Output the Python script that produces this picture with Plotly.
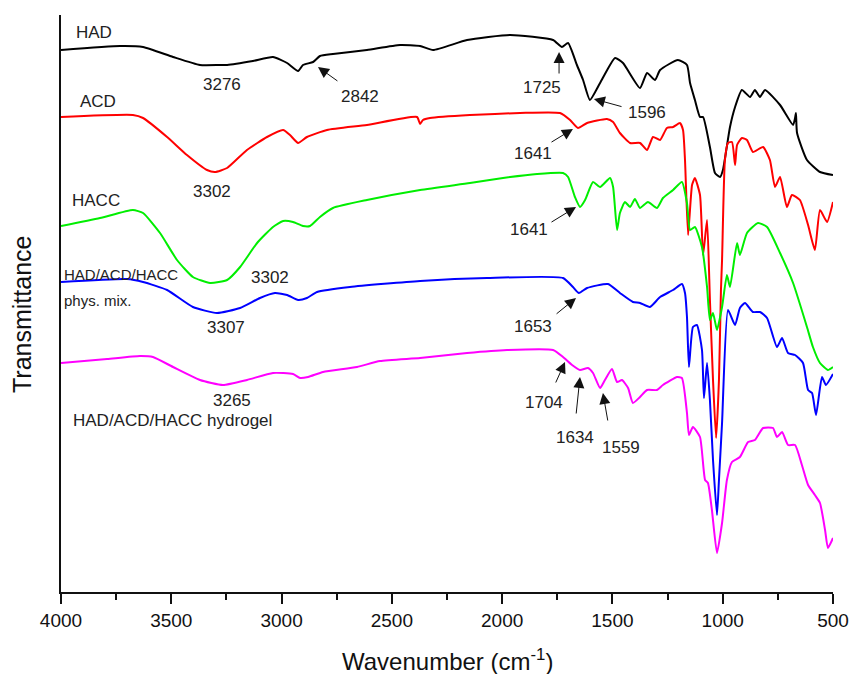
import plotly.graph_objects as go

# ---------------- data ----------------
had_wn = [4000, 3732, 3628, 3492, 3370, 3279, 3247, 3130, 3039, 2975, 2925, 2903, 2857,
          2826, 2767, 2613, 2463, 2372, 2313, 2159, 1964, 1769, 1729, 1701, 1661, 1633,
          1602, 1556, 1488, 1452, 1375, 1343, 1307, 1284, 1203, 1162, 1148, 1126, 1103,
          1089, 1058, 1035, 1012, 999, 967, 944, 913, 876, 854, 831, 808, 740, 681, 672,
          668, 663, 618, 559, 500]
had_t = [542, 546, 545, 535, 527, 527, 527, 531, 535, 529, 521, 527, 530,
         536, 538, 542, 547, 546, 542, 552, 557, 552, 545, 549, 527, 512,
         492, 509, 534, 529, 504, 519, 512, 522, 532, 527, 509, 492, 475,
         475, 445, 419, 415, 422, 465, 485, 502, 495, 502, 495, 502, 487, 467, 474,
         479, 459, 432, 420, 417]

acd_wn = [4000, 3674, 3628, 3519, 3429, 3338, 3302, 3247, 3157, 3066, 2993, 2962, 2925,
          2885, 2794, 2613, 2386, 2372, 2359, 2327, 2146, 1919, 1738, 1692, 1656, 1615,
          1525, 1497, 1466, 1420, 1375, 1343, 1316, 1284, 1253, 1225, 1194, 1180, 1171,
          1157, 1139, 1126, 1103, 1089, 1071, 1058, 1044, 1030, 1017, 1008, 1003, 990,
          976, 958, 944, 935, 913, 890, 863, 817, 786, 763, 740, 709, 686, 650, 613,
          582, 559, 527, 500]
acd_t = [475, 477, 474, 455, 437, 422, 420, 424, 442, 455, 462, 457, 449,
         455, 462, 467, 475, 468, 472, 474, 477, 479, 479, 472, 464, 469,
         473, 470, 459, 449, 449, 442, 455, 452, 464, 465, 469, 462, 432,
         357, 407, 414, 397, 337, 372, 292, 212, 154, 212, 302, 332, 432,
         449, 450, 427, 447, 454, 452, 440, 445, 432, 405, 415, 385, 397, 392, 367,
         342, 382, 370, 390]

hacc_wn = [4000, 3823, 3674, 3628, 3551, 3474, 3402, 3324, 3247, 3188, 3111, 3039, 2993,
           2948, 2903, 2871, 2826, 2767, 2613, 2372, 2146, 1996, 1842, 1724, 1701, 1670,
           1647, 1624, 1588, 1556, 1511, 1497, 1479, 1466, 1443, 1420, 1398, 1375, 1339,
           1298, 1271, 1225, 1185, 1162, 1148, 1126, 1094, 1071, 1058, 1044, 1026, 1003,
           981, 967, 935, 922, 890, 840, 799, 740, 681, 618, 591, 559, 523, 500]
hacc_t = [366, 374, 382, 379, 359, 332, 315, 309, 312, 325, 349, 365, 371,
          370, 366, 366, 375, 384, 392, 402, 409, 414, 418, 419, 415, 395,
          385, 392, 410, 405, 414, 405, 362, 379, 390, 385, 393, 384, 390,
          384, 394, 402, 410, 389, 362, 365, 345, 305, 272, 279, 262, 285,
          317, 305, 349, 337, 359, 369, 365, 339, 309, 265, 245, 229, 222, 225]

mix_wn = [4000, 3701, 3628, 3519, 3402, 3293, 3188, 3098, 3030, 2975, 2925, 2885, 2839,
          2690, 2372, 2069, 1724, 1679, 1652, 1615, 1520, 1466, 1407, 1375, 1330, 1284,
          1225, 1185, 1171, 1162, 1153, 1135, 1117, 1094, 1085, 1071, 1058, 1044, 1026,
          1017, 1003, 976, 944, 922, 899, 863, 831, 799, 754, 731, 704, 672, 636, 613,
          595, 577, 550, 532, 500]
mix_t = [310, 313, 310, 302, 285, 279, 284, 294, 299, 297, 292, 294, 300,
         305, 311, 314, 314, 305, 299, 304, 308, 299, 290, 289, 285, 295,
         302, 308, 299, 275, 225, 265, 267, 242, 194, 229, 192, 132, 77,
         112, 169, 282, 267, 284, 289, 280, 280, 274, 245, 254, 239, 237, 229, 202,
         199, 177, 215, 207, 218]

gel_wn = [4000, 3791, 3642, 3583, 3492, 3370, 3266, 3157, 3039, 2948, 2916, 2880, 2812,
          2658, 2554, 2372, 2159, 1978, 1769, 1724, 1683, 1647, 1611, 1588, 1556, 1534,
          1502, 1479, 1457, 1429, 1407, 1375, 1343, 1298, 1271, 1207, 1185, 1162, 1153,
          1135, 1103, 1080, 1067, 1049, 1026, 1003, 981, 958, 922, 885, 854, 817, 772,
          754, 731, 704, 672, 641, 613, 582, 559, 536, 523, 500]
gel_t = [229, 233, 236, 235, 225, 212, 207, 212, 219, 218, 214, 215, 220,
         225, 231, 234, 239, 242, 242, 235, 227, 222, 224, 219, 204, 212,
         223, 210, 212, 204, 189, 195, 202, 202, 207, 215, 214, 179, 157,
         165, 155, 112, 109, 82, 39, 69, 112, 130, 135, 150, 152, 164, 164,
         155, 160, 147, 147, 127, 107, 97, 89, 62, 44, 54]

series_names = ["HAD", "ACD", "HACC", "HAD/ACD/HACC phys. mix.", "HAD/ACD/HACC hydrogel"]
series_colors = ["#000000", "#ff0000", "#00ee00", "#0000ff", "#ff00ff"]
series_x = [had_wn, acd_wn, hacc_wn, mix_wn, gel_wn]
series_y = [had_t, acd_t, hacc_t, mix_t, gel_t]

x_ticks = [4000, 3500, 3000, 2500, 2000, 1500, 1000, 500]

# text labels: (text, wavenumber, T, size, anchor)
labels = [
    ("HAD", 3941, 560, 17, "left"),
    ("3276", 3270, 508, 17, "center"),
    ("2842", 2644, 496, 17, "center"),
    ("ACD", 3923, 491, 17, "left"),
    ("3302", 3315, 401, 17, "center"),
    ("HACC", 3959, 392, 17, "left"),
    ("3302", 3052, 315, 17, "center"),
    ("HAD/ACD/HACC", 3995, 318, 15, "left"),
    ("phys. mix.", 3995, 292, 15, "left"),
    ("3307", 3252, 265, 17, "center"),
    ("3265", 3225, 192, 17, "center"),
    ("HAD/ACD/HACC hydrogel", 3955, 172, 17, "left"),
    ("1725", 1819, 505, 17, "center"),
    ("1596", 1343, 480, 17, "center"),
    ("1641", 1860, 439, 17, "center"),
    ("1641", 1878, 363, 17, "center"),
    ("1653", 1860, 266, 17, "center"),
    ("1704", 1810, 190, 17, "center"),
    ("1634", 1670, 155, 17, "center"),
    ("1559", 1461, 145, 17, "center"),
]

# arrows: (tip wn, tip T, tail wn, tail T)
arrows = [
    (2835, 525, 2740, 510),
    (1742, 540, 1742, 517),
    (1584, 493, 1452, 485),
    (1679, 463, 1783, 449),
    (1665, 385, 1783, 369),
    (1665, 294, 1760, 277),
    (1715, 230, 1760, 208),
    (1647, 215, 1665, 177),
    (1543, 199, 1520, 170),
]

# ---------------- figure ----------------
FONT = "Liberation Sans, Arial, sans-serif"
fig = go.Figure()
for name, col, xs, ys in zip(series_names, series_colors, series_x, series_y):
    fig.add_trace(go.Scatter(x=xs, y=ys, mode="lines", name=name,
                             line=dict(color=col, width=2, shape="spline", smoothing=0.5),
                             showlegend=False))

anns = []
for text, wx, ty, size, anchor in labels:
    anns.append(dict(x=wx, y=ty, xref="x", yref="y", text=text, showarrow=False,
                     xanchor=anchor, yanchor="middle",
                     font=dict(family=FONT, size=size, color="#222222")))
for tx, ty, sx, sy in arrows:
    anns.append(dict(x=tx, y=ty, xref="x", yref="y", ax=sx, ay=sy, axref="x", ayref="y",
                     text="", showarrow=True, arrowhead=2, arrowsize=2.2, arrowwidth=1,
                     arrowcolor="#111111"))
anns.append(dict(x=-39 / 772, y=(592 - 315) / 577, xref="paper", yref="paper",
                 text="Transmittance", textangle=-90, showarrow=False,
                 xanchor="center", yanchor="middle",
                 font=dict(family=FONT, size=25, color="#111111")))
anns.append(dict(x=0.5, y=(592 - 660) / 577, xref="paper", yref="paper",
                 text="Wavenumber (cm<sup>-1</sup>)", showarrow=False,
                 xanchor="center", yanchor="middle",
                 font=dict(family=FONT, size=24, color="#111111")))

fig.update_layout(
    width=851, height=674,
    margin=dict(l=61, r=18, t=15, b=82, autoexpand=False),
    paper_bgcolor="white", plot_bgcolor="white",
    font=dict(family=FONT, color="#111111"),
    annotations=anns,
    xaxis=dict(
        range=[4000, 500], tickvals=x_ticks, ticktext=[str(v) for v in x_ticks],
        automargin=False,
        ticks="outside", ticklen=10, tickwidth=2, tickcolor="#111111",
        showline=True, linecolor="#111111", linewidth=2,
        showgrid=False, zeroline=False,
        tickfont=dict(family=FONT, size=19, color="#111111"),
        minor=dict(dtick=250, tick0=500, ticks="outside", ticklen=6, tickwidth=2,
                   tickcolor="#111111", showgrid=False),
    ),
    yaxis=dict(
        range=[0, 577], showticklabels=False, ticks="", automargin=False,
        showline=True, linecolor="#111111", linewidth=2,
        showgrid=False, zeroline=False,
    ),
)

fig.write_html("out.html")
